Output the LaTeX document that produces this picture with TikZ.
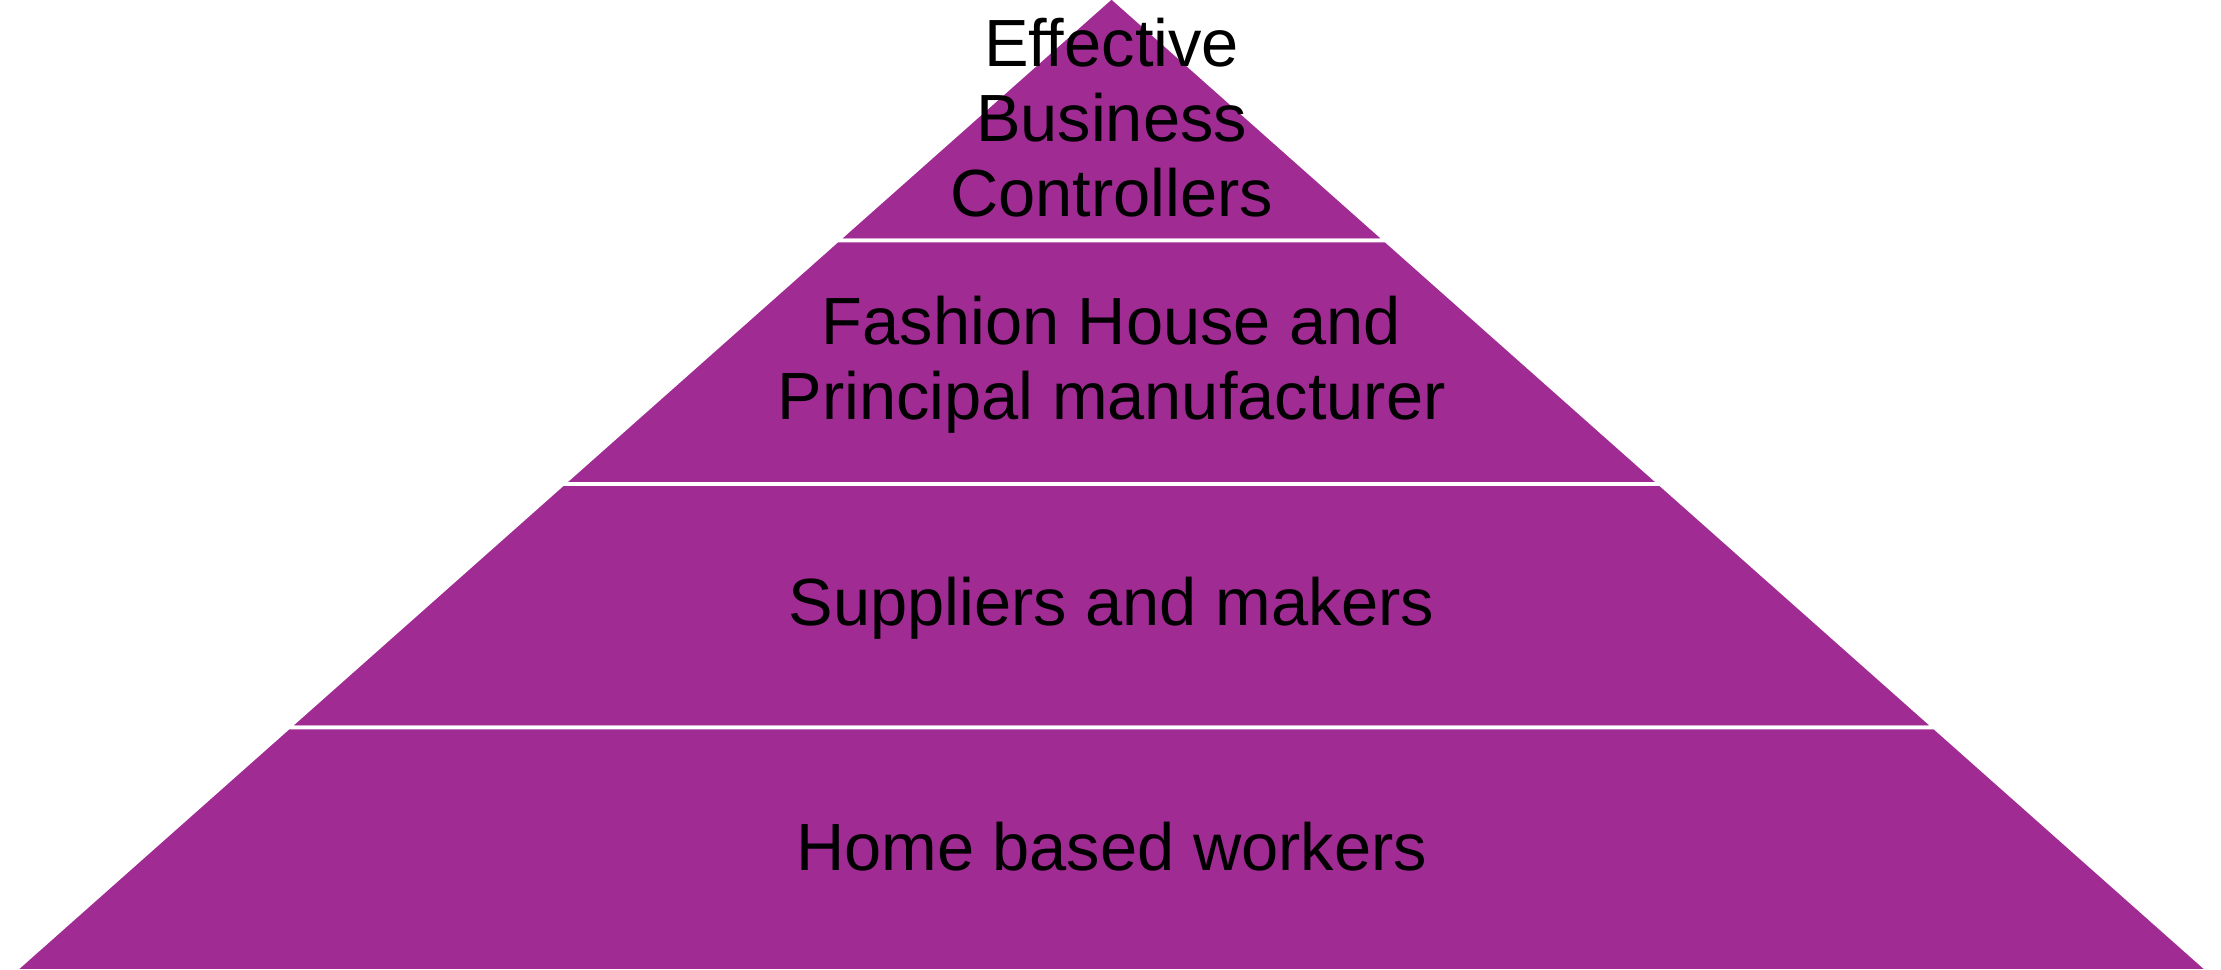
\documentclass[tikz,border=0pt]{standalone}
\usepackage{fontspec}
\setmainfont{Liberation Sans}
\usepackage{xcolor}
\usetikzlibrary{calc}
\definecolor{pyramidpurple}{RGB}{160,43,147}

\begin{document}
\begin{tikzpicture}
        \tikzset{layer/.style={fill=pyramidpurple,draw=white,line width=1.1pt,line join=round},
            tier text/.style={font=\fontsize{19}{21.2}\selectfont,align=center,anchor=base}}
        \useasboundingbox (0,0) rectangle (22.21,9.69);
        \coordinate (apex) at (11.115,9.72);
        \coordinate (base left) at (0.14,-0.02);
        \coordinate (base right) at (22.09,-0.02);
        % four tiers, top to bottom
        \foreach \i [evaluate=\i as \a using (\i-1)/4, evaluate=\i as \b using \i/4] in {1,...,4}
            \filldraw[layer] ($(apex)!\a!(base left)$) -- ($(apex)!\b!(base left)$)
                -- ($(apex)!\b!(base right)$) -- ($(apex)!\a!(base right)$) -- cycle;
        \node[tier text] (controllers) at (11.115,7.53) {Effective\\Business\\Controllers};
        \node[tier text] (fashion) at (11.115,5.50) {Fashion House and\\Principal manufacturer};
        \node[tier text] (suppliers) at (11.115,3.44) {Suppliers and makers};
        \node[tier text] (workers) at (11.115,0.99) {Home based workers};
    \end{tikzpicture}
\end{document}
